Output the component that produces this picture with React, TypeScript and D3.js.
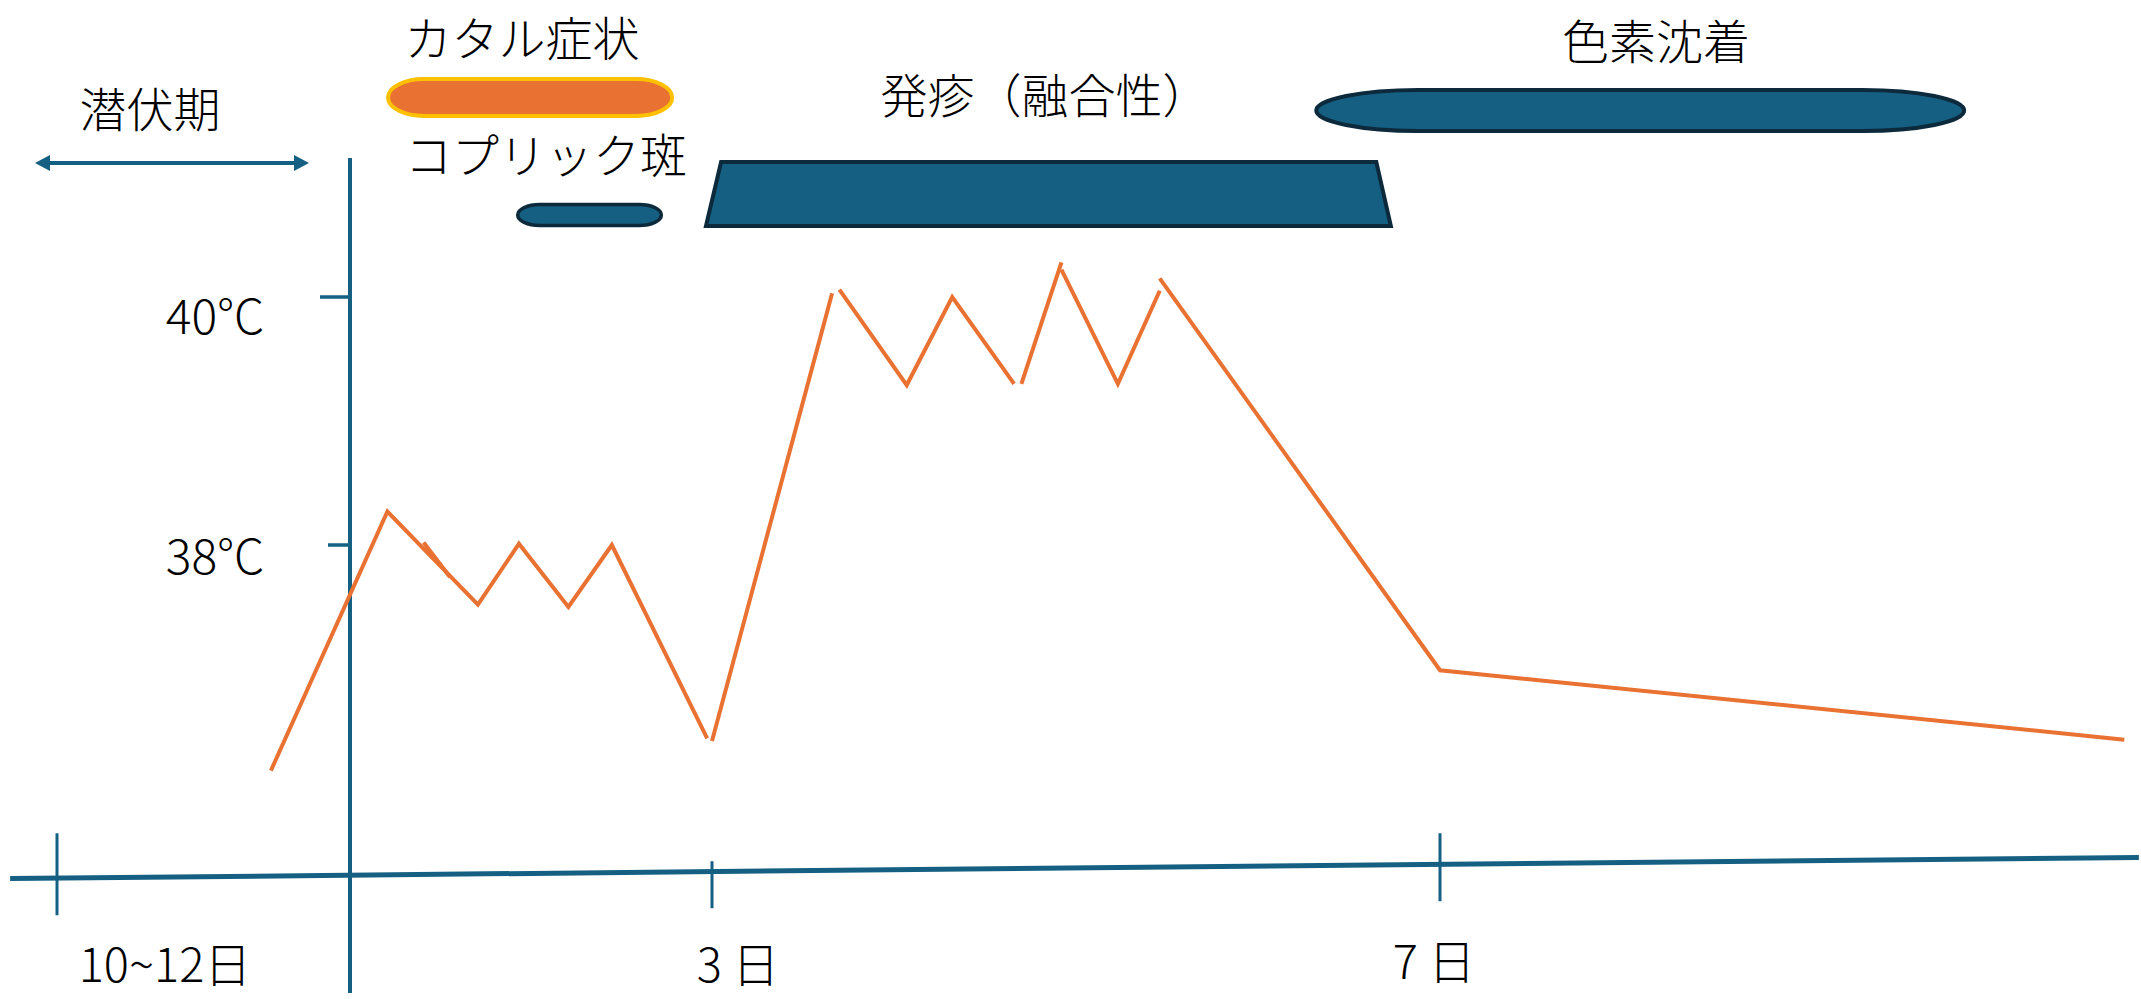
import React from 'react'
import * as d3 from 'd3'

// 麻疹の経過（体温・症状の時期）
const dayTicks = [-1, 3, 7]
const dayTickLabels = ['10~12日', '3 日', '7 日']
const tempTicks = [40, 38]
const tempTickLabels = ['40°C', '38°C']

// 体温曲線（途切れ途切れの折れ線）: [日, °C]
const feverSegments: [number, number][][] = [
	[[-0.27, 36.18], [0.31, 38.27], [1.06, 37.52], [1.4, 38.01], [1.81, 37.5], [2.17, 38.0], [2.96, 36.44]],
	[[0.61, 38.02], [0.83, 37.74]],
	[[3.0, 36.42], [3.66, 40.03]],
	[[3.7, 40.06], [4.07, 39.29], [4.32, 40.0], [4.66, 39.3]],
	[[4.7, 39.3], [4.92, 40.28]],
	[[4.92, 40.22], [5.23, 39.3], [5.46, 40.05]],
	[[5.46, 40.15], [7.0, 36.99], [10.76, 36.43]],
]

// 時間軸（少し傾いている）
const baseline: [number, number][] = [[-1.16, 35.31], [10.84, 35.48]]

// 症状の期間 [開始日, 終了日]
const incubation = [-1.075, -0.14]
const catarrh = [0.315, 2.67]
const koplik = [1.39, 2.58]
const rashTop = [3.05, 6.65]
const rashBottom = [2.95, 6.73]
const pigment = [6.32, 9.88]

const blue = '#156082'
const dark = '#0c2a3c'
const orange = '#e97132'
const font = '"Noto Sans CJK JP", "Noto Sans", sans-serif'

export default function App() {
	const width = 2141
	const height = 999

	const x = d3.scaleLinear().domain([-1, 0, 3, 7]).range([57, 350, 712, 1440])
	const y = d3.scaleLinear().domain([38, 40]).range([545, 297])

	const line = d3.line<[number, number]>().x(d => x(d[0])).y(d => y(d[1]))

	const x0 = x(0)
	const arrowY = 163
	const [a1, a2] = incubation.map(x)

	const tickUp = [45, 10, 31]
	const tickDown = 37
	const baseAt = (day: number) => {
		const t = (day - baseline[0][0]) / (baseline[1][0] - baseline[0][0])
		return y(baseline[0][1] + t * (baseline[1][1] - baseline[0][1]))
	}

	const pill = (range: number[], cy: number, h: number, rx: number, fill: string, stroke: string, sw: number) => (
		<rect x={x(range[0])} y={cy - h / 2} width={x(range[1]) - x(range[0])} height={h}
			rx={rx} ry={h / 2} fill={fill} stroke={stroke} strokeWidth={sw} />
	)

	const label = (text: string, cx: number, cy: number, size = 47) => (
		<text x={cx} y={cy} textAnchor="middle" dominantBaseline="central"
			fontFamily={font} fontSize={size} fontWeight={300} fill="#000">{text}</text>
	)

	return (
		<svg width={width} height={height} style={{ position: 'absolute', left: 0, top: 0, background: '#fff' }}>
			{/* 横軸 */}
			<path d={line(baseline) || ''} stroke={blue} strokeWidth={5} fill="none" />
			{dayTicks.map((d, i) => (
				<line key={d} x1={x(d)} x2={x(d)} y1={baseAt(d) - tickUp[i]} y2={baseAt(d) + tickDown}
					stroke={blue} strokeWidth={3} />
			))}
			{dayTickLabels.map((t, i) => {
				const dx = [108, 26, -6][i]
				const cy = [961, 961, 958][i]
				return <g key={t}>{label(t, x(dayTicks[i]) + dx, cy, 47)}</g>
			})}

			{/* 縦軸 */}
			<line x1={x0} x2={x0} y1={158} y2={993} stroke={blue} strokeWidth={4} />
			{tempTicks.map((t, i) => (
				<line key={t} x1={x0 - (i === 0 ? 30 : 22)} x2={x0} y1={y(t)} y2={y(t)} stroke={blue} strokeWidth={3.5} />
			))}
			{tempTickLabels.map((t, i) => (
				<g key={t}>{label(t, 215, y(tempTicks[i]) + (i === 0 ? 16 : 8), 48)}</g>
			))}

			{/* 体温 */}
			{feverSegments.map((s, i) => (
				<path key={i} d={line(s) || ''} stroke={orange} strokeWidth={4} fill="none" />
			))}

			{/* 潜伏期 */}
			<line x1={a1 + 12} x2={a2 - 12} y1={arrowY} y2={arrowY} stroke={blue} strokeWidth={4} />
			<polygon points={`${a1},${arrowY} ${a1 + 15},${arrowY - 8} ${a1 + 15},${arrowY + 8}`} fill={blue} />
			<polygon points={`${a2},${arrowY} ${a2 - 15},${arrowY - 8} ${a2 - 15},${arrowY + 8}`} fill={blue} />
			{label('潜伏期', 150, 106)}

			{/* カタル症状 */}
			{label('カタル症状', 522, 35)}
			{pill(catarrh, 97.5, 37, 36, orange, '#ffc000', 4)}

			{/* コプリック斑 */}
			{label('コプリック斑', 546, 152)}
			{pill(koplik, 215, 21, 22, blue, dark, 3.5)}

			{/* 発疹 */}
			{label('発疹（融合性）', 1045, 92)}
			<polygon
				points={`${x(rashTop[0])},162 ${x(rashTop[1])},162 ${x(rashBottom[1])},226 ${x(rashBottom[0])},226`}
				fill={blue} stroke={dark} strokeWidth={4} strokeLinejoin="miter" />

			{/* 色素沈着 */}
			{label('色素沈着', 1656, 38)}
			{pill(pigment, 110.5, 41, 102, blue, dark, 4)}
		</svg>
	)
}
